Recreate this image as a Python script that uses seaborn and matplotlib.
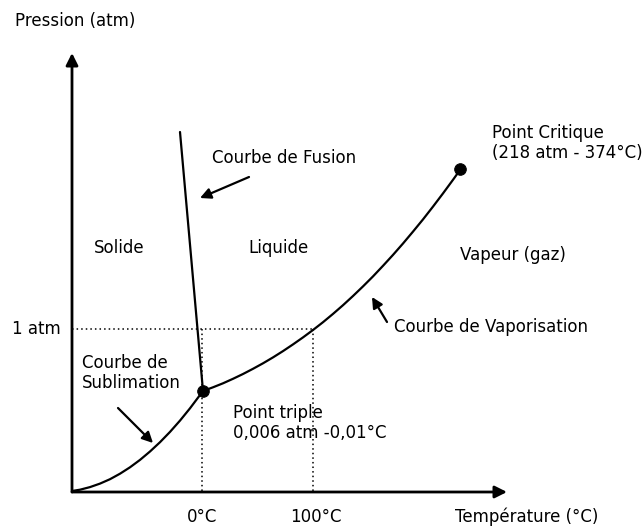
import matplotlib
matplotlib.use("Agg")
import matplotlib.pyplot as plt
import seaborn as sns
import pandas as pd

sns.set_style("white")
plt.rcParams["font.family"] = ["DejaVu Sans"]

# Schematic phase diagram of water, in diagram units (x: right, y: down)
sublimation_x = [72, 80, 90, 100, 110, 120, 130, 140, 150, 160, 170, 180, 190, 203]
sublimation_y = [491, 489.7, 487.1, 483.6, 479.2, 473.7, 467.3, 459.9, 451.5,
                 442.2, 431.9, 420.6, 408.3, 391]

vaporisation_x = [203, 213, 223, 233, 243, 253, 263, 273, 283, 293, 303, 313,
                  323, 333, 343, 353, 363, 373, 383, 393, 403, 413, 423, 433,
                  443, 453, 460]
vaporisation_y = [391, 387.3, 383.3, 378.8, 374.0, 368.8, 363.3, 357.4, 351.1,
                  344.4, 337.4, 330, 322.2, 313.9, 305.2, 296.0, 286.4, 276.4,
                  265.8, 254.9, 243.5, 231.6, 219.4, 206.6, 193.4, 179.8, 170]

fusion_x = [180, 203]
fusion_y = [132, 391]

special_x = [203, 460]   # triple point, critical point
special_y = [391, 169]

one_atm_y = 329
zero_c_x = 202
hundred_c_x = 313
origin = (72, 492)
x_axis_end = 507
y_axis_end = 53

fig = plt.figure(figsize=(6.43, 5.29), dpi=100)
ax = fig.add_axes([0, 0, 1, 1])
ax.set_xlim(0, 643)
ax.set_ylim(529, 0)
ax.axis("off")

lw = 1.6
fs = 12

# Phase boundaries
for xs, ys in [(sublimation_x, sublimation_y),
               (vaporisation_x, vaporisation_y),
               (fusion_x, fusion_y)]:
    df = pd.DataFrame({"x": xs, "y": ys})
    sns.lineplot(data=df, x="x", y="y", sort=False, estimator=None,
                 color="black", lw=lw, ax=ax)

sns.scatterplot(x=special_x, y=special_y, color="black", s=70,
                edgecolor="black", zorder=5, ax=ax)

# Reference dotted guides
dot = dict(color="black", lw=1.1, linestyle=(0, (1, 2)))
ax.plot([origin[0], hundred_c_x], [one_atm_y, one_atm_y], **dot)
ax.plot([zero_c_x, zero_c_x], [one_atm_y, origin[1]], **dot)
ax.plot([hundred_c_x, hundred_c_x], [one_atm_y, origin[1]], **dot)

# Axes with arrows
ax_arrow = dict(arrowstyle="-|>", color="black", lw=2, mutation_scale=18,
                shrinkA=0, shrinkB=0)
ax.annotate("", xy=(origin[0], y_axis_end), xytext=origin, arrowprops=ax_arrow)
ax.annotate("", xy=(x_axis_end, origin[1]), xytext=origin, arrowprops=ax_arrow)

# Pointer arrows
ptr = dict(arrowstyle="-|>", color="black", lw=1.6, mutation_scale=16,
           shrinkA=0, shrinkB=0)
ax.annotate("", xy=(200, 198), xytext=(249, 177), arrowprops=ptr)
ax.annotate("", xy=(153, 443), xytext=(118, 408), arrowprops=ptr)
ax.annotate("", xy=(372, 297), xytext=(387, 322), arrowprops=ptr)

# Labels
def label(x, y, s, ha="left"):
    ax.text(x, y, s, ha=ha, va="center", fontsize=fs, color="black")

label(15, 21, "Pression (atm)")
label(212, 158, "Courbe de Fusion")
label(94, 248, "Solide")
label(248, 248, "Liquide")
label(460, 255, "Vapeur (gaz)")
label(492, 133, "Point Critique")
label(492, 153, "(218 atm - 374°C)")
label(12, 329, "1 atm")
label(82, 363, "Courbe de")
label(82, 383, "Sublimation")
label(233, 413, "Point triple")
label(233, 433, "0,006 atm -0,01°C")
label(394, 327, "Courbe de Vaporisation")
label(zero_c_x, 517, "0°C", ha="center")
label(hundred_c_x + 3, 517, "100°C", ha="center")
label(455, 517, "Température (°C)")

fig.savefig("out.png", dpi=100, facecolor="white")
